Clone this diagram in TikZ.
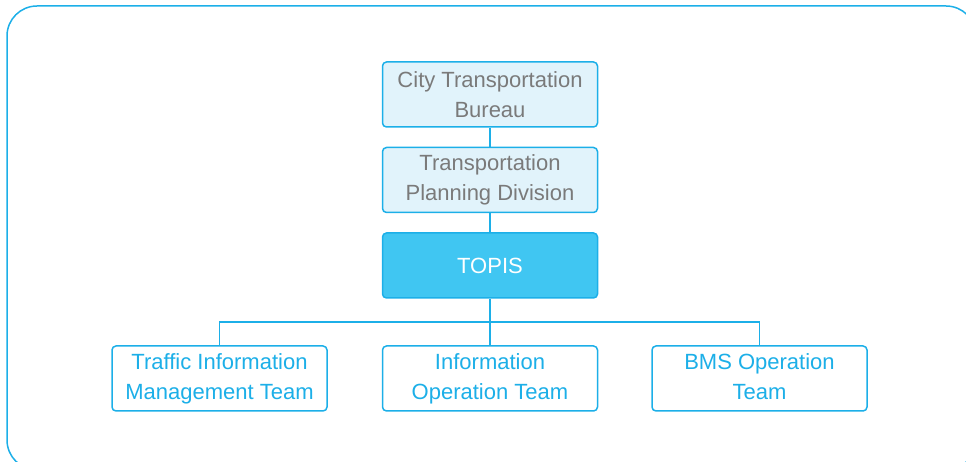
\documentclass[tikz,border=0pt]{standalone}
\usepackage{fontspec}
\setmainfont{Liberation Sans}
\definecolor{topisblue}{HTML}{1CAFE8}
\definecolor{topisfill}{HTML}{40C6F2}
\definecolor{palefill}{HTML}{E1F3FB}
\definecolor{graytext}{HTML}{7A7A7A}
\begin{document}
\begin{tikzpicture}[x=1pt,y=1pt,
    unit/.style={draw=topisblue,line width=1.5pt,rounded corners=4pt,minimum width=215pt,minimum height=65pt,inner sep=0pt,align=center,font=\fontsize{22}{30}\selectfont},
    upper/.style={unit,fill=palefill,text=graytext},
    team/.style={unit,fill=white,text=topisblue},
    link/.style={draw=topisblue,line width=1.5pt}]
    \useasboundingbox (0,0) rectangle (966,462);
    \begin{scope}
    \clip (0,0) rectangle (966,462);
    \draw[topisblue,line width=1.5pt,rounded corners=30pt] (7,456) rectangle (976,-8);
    \end{scope}

    \node[upper] (bureau) at (490,367.5) {City Transportation\\Bureau};
    \node[upper] (division) at (490,282) {Transportation\\Planning Division};
    \node[unit,fill=topisfill,text=white] (topis) at (490,196.5) {TOPIS};

    \node[team] (traffic) at (219.5,83.5) {Traffic Information\\Management Team};
    \node[team] (operation) at (490,83.5) {Information\\Operation Team};
    \node[team] (bms) at (759.5,83.5) {BMS Operation\\Team\vphantom{g}};

    \coordinate (bus) at (490,140);
    \draw[link] (bureau) -- (division);
    \draw[link] (division) -- (topis);
    \draw[link] (topis) -- (operation);
    \draw[link] (traffic.north) |- (bus) -| (bms.north);
\end{tikzpicture}
\end{document}
